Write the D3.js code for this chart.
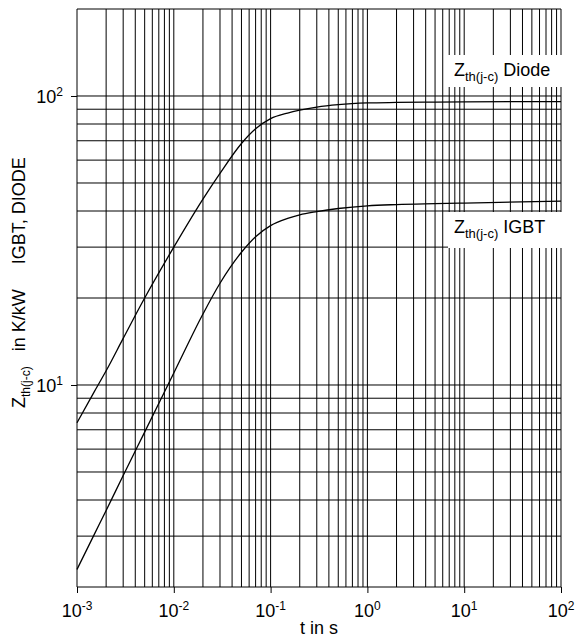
<!DOCTYPE html>
<html>
<head>
<meta charset="utf-8">
<script src="https://cdn.jsdelivr.net/npm/d3@7"></script>
<style>
  body { margin: 0; background: #fff; }
  text { font-family: "Liberation Sans", Arial, Helvetica, sans-serif; fill: #000; }
</style>
</head>
<body>
<svg id="chart" width="577" height="639"></svg>
<script>
// Transient thermal impedance, junction to case, for IGBT and diode
const timeSeconds = [0.001, 0.0015, 0.002, 0.003, 0.005, 0.01, 0.02, 0.03, 0.05, 0.07,
                     0.1, 0.15, 0.2, 0.3, 0.5, 1, 2, 5, 10, 100];
const zthDiode = [7.4, 9.45, 11.2, 14.5, 20, 30, 44, 54, 68.5, 77,
                  83.5, 87.3, 89.3, 91.5, 93.3, 94.6, 95, 95.3, 95.5, 95.6];
const zthIgbt = [2.3, 3.03, 3.68, 4.86, 6.87, 11.0, 17.6, 22.5, 28.8, 32.6,
                 35.6, 37.7, 38.8, 39.8, 40.8, 41.7, 42.1, 42.4, 42.6, 43.3];
const seriesNames = ["Diode", "IGBT"];
const xTickExponents = [-3, -2, -1, 0, 1, 2];
const yTickExponents = [1, 2];
const xDomain = [1e-3, 1e2];
const yDomain = [2, 200];

const svg = d3.select("#chart");
const plotLeft = 77, plotRight = 561, plotTop = 9, plotBottom = 587;

const x = d3.scaleLog().domain(xDomain).range([plotLeft, plotRight]);
const y = d3.scaleLog().domain(yDomain).range([plotBottom, plotTop]);

// grid values: 1..9 of every decade
function gridValues(lo, hi) {
  const out = [];
  for (let e = Math.floor(Math.log10(lo)); e <= Math.ceil(Math.log10(hi)); e++) {
    for (let m = 1; m <= 9; m++) {
      const v = m * Math.pow(10, e);
      if (v >= lo * 0.9999 && v <= hi * 1.0001) out.push(v);
    }
  }
  return out;
}

const grid = svg.append("g").attr("stroke", "#000").attr("stroke-width", 1);
grid.selectAll("line.v").data(gridValues(...xDomain)).join("line")
  .attr("class", "v")
  .attr("x1", d => x(d)).attr("x2", d => x(d))
  .attr("y1", plotTop).attr("y2", plotBottom);
grid.selectAll("line.h").data(gridValues(...yDomain)).join("line")
  .attr("class", "h")
  .attr("x1", plotLeft).attr("x2", plotRight)
  .attr("y1", d => y(d)).attr("y2", d => y(d));

// axes: only decade ticks, labels drawn as 10 with superscript exponent
const xAxis = d3.axisBottom(x).tickValues(xTickExponents.map(e => Math.pow(10, e)))
  .tickSize(6).tickFormat("");
const gx = svg.append("g").attr("transform", `translate(0,${plotBottom})`).call(xAxis);
gx.select(".domain").remove();
gx.selectAll(".tick line").attr("stroke", "#000");

const yAxis = d3.axisLeft(y).tickValues(yTickExponents.map(e => Math.pow(10, e)))
  .tickSize(6).tickFormat("");
const gy = svg.append("g").attr("transform", `translate(${plotLeft},0)`).call(yAxis);
gy.select(".domain").remove();
gy.selectAll(".tick line").attr("stroke", "#000");

function powerLabel(sel, e) {
  sel.append("tspan").text("10");
  sel.append("tspan").attr("dy", -7).attr("font-size", 12).text(String(e));
}

xTickExponents.forEach(e => {
  const t = svg.append("text")
    .attr("x", x(Math.pow(10, e)))
    .attr("y", 617)
    .attr("text-anchor", "middle")
    .attr("font-size", 18);
  powerLabel(t, e);
});

yTickExponents.forEach(e => {
  const t = svg.append("text")
    .attr("x", 63)
    .attr("y", y(Math.pow(10, e)) + 7)
    .attr("text-anchor", "end")
    .attr("font-size", 18);
  powerLabel(t, e);
});

svg.append("text")
  .attr("x", x(Math.sqrt(xDomain[0] * xDomain[1])))
  .attr("y", 634)
  .attr("text-anchor", "middle")
  .attr("font-size", 18)
  .text("t in s");

// y axis title
const yt = svg.append("text")
  .attr("transform", "translate(25,408) rotate(-90)")
  .attr("font-size", 18)
  .style("white-space", "pre");
yt.append("tspan").text("Z");
yt.append("tspan").attr("dy", 5).attr("font-size", 12).text("th(j-c)");
yt.append("tspan").attr("dy", -5).text("   in K/kW     IGBT, DIODE");

// curves
const line = d3.line()
  .x(d => x(d[0]))
  .y(d => y(d[1]))
  .curve(d3.curveMonotoneX);

[zthDiode, zthIgbt].forEach(series => {
  svg.append("path")
    .datum(timeSeconds.map((t, i) => [t, series[i]]))
    .attr("fill", "none")
    .attr("stroke", "#000")
    .attr("stroke-width", 1.3)
    .attr("d", line);
});

// series labels on white boxes
const labelBoxes = [
  { name: seriesNames[0], boxTop: 55, boxBottom: 87, baseline: 76 },
  { name: seriesNames[1], boxTop: 212, boxBottom: 248, baseline: 233 }
];
labelBoxes.forEach(b => {
  svg.append("rect")
    .attr("x", 448).attr("y", b.boxTop)
    .attr("width", 116).attr("height", b.boxBottom - b.boxTop)
    .attr("fill", "#fff");
  const t = svg.append("text")
    .attr("x", 454).attr("y", b.baseline)
    .attr("font-size", 18)
    .style("white-space", "pre");
  t.append("tspan").text("Z");
  t.append("tspan").attr("dy", 5).attr("font-size", 13).text("th(j-c)");
  t.append("tspan").attr("dy", -5).text(" " + b.name);
});
</script>
</body>
</html>
